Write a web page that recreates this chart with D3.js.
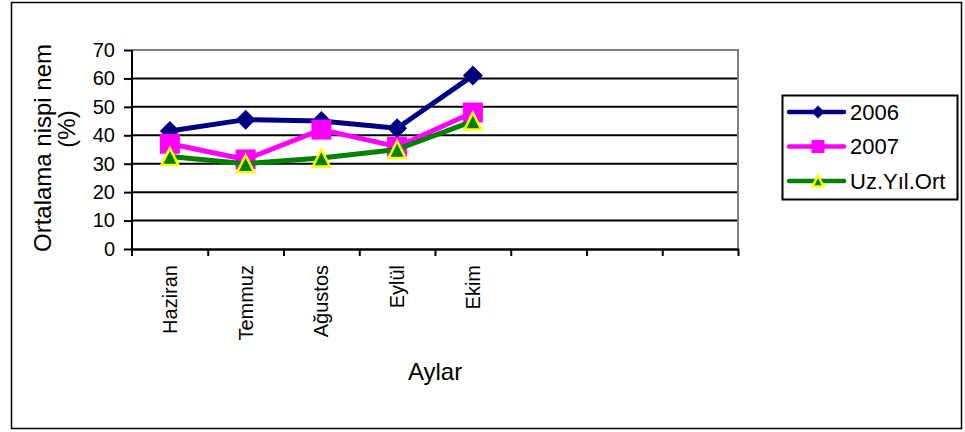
<!DOCTYPE html>
<html>
<head>
<meta charset="utf-8">
<script src="https://cdn.jsdelivr.net/npm/d3@7/dist/d3.min.js"></script>
<style>
  html, body { margin: 0; padding: 0; background: #fff; }
  svg { display: block; font-family: Arial, "Liberation Sans", sans-serif; }
</style>
</head>
<body>
<svg id="chart" width="965" height="432"></svg>
<script>
// Monthly mean relative humidity (%)
const categories = ["Haziran", "Temmuz", "Ağustos", "Eylül", "Ekim"];
const slotCount = 8; // category axis keeps three empty slots on the right
const seriesNames = ["2006", "2007", "Uz.Yıl.Ort"];
const values2006 = [41.5, 45.5, 45, 42.5, 61];
const values2007 = [37, 31.5, 42, 36, 48];
const valuesLongTerm = [32.5, 30, 32, 35, 45];
const yTicks = [0, 10, 20, 30, 40, 50, 60, 70];

const seriesStyle = [
  { values: values2006, color: "#000080", marker: "diamond" },
  { values: values2007, color: "#FF00FF", marker: "square" },
  { values: valuesLongTerm, color: "#008000", marker: "triangle" }
];

const svg = d3.select("#chart");

// outer frame
svg.append("rect")
  .attr("x", 11.5).attr("y", 2.5)
  .attr("width", 950).attr("height", 426)
  .attr("fill", "none").attr("stroke", "#000").attr("stroke-width", 1.5);

const plot = { left: 132, right: 738, top: 50, bottom: 249 };

const x = d3.scaleBand()
  .domain(d3.range(slotCount))
  .range([plot.left, plot.right])
  .padding(0);

const xEdge = d3.scaleLinear()
  .domain([0, slotCount])
  .range([plot.left, plot.right]);

const y = d3.scaleLinear()
  .domain([0, 70])
  .range([plot.bottom, plot.top]);

// horizontal gridlines
svg.append("g")
  .selectAll("line")
  .data(yTicks.filter(v => v > 0 && v < 70))
  .join("line")
  .attr("x1", plot.left).attr("x2", plot.right)
  .attr("y1", d => y(d)).attr("y2", d => y(d))
  .attr("stroke", "#000").attr("stroke-width", 2);

// plot area border (top and right)
svg.append("path")
  .attr("d", `M${plot.left},${y(70)}H${plot.right}V${plot.bottom}`)
  .attr("fill", "none").attr("stroke", "#808080").attr("stroke-width", 2);

// y axis
const yAxis = svg.append("g")
  .attr("transform", `translate(${plot.left},0)`)
  .call(d3.axisLeft(y).tickValues(yTicks).tickSize(8).tickPadding(9).tickSizeOuter(0));
yAxis.select(".domain").attr("stroke", "#000").attr("stroke-width", 2)
  .attr("d", `M0,${plot.top}V${plot.bottom + 7}`);
yAxis.selectAll(".tick line").attr("stroke", "#000").attr("stroke-width", 2);
yAxis.selectAll(".tick text")
  .attr("font-size", 20).attr("fill", "#000")
  .attr("font-family", "Arial, 'Liberation Sans', sans-serif");

// x axis with ticks between categories
const xAxis = svg.append("g")
  .attr("transform", `translate(0,${plot.bottom})`)
  .call(d3.axisBottom(xEdge).tickValues(d3.range(1, slotCount + 1)).tickFormat("").tickSize(7).tickSizeOuter(0));
xAxis.select(".domain").attr("stroke", "#000").attr("stroke-width", 2.5);
xAxis.selectAll(".tick line").attr("stroke", "#000").attr("stroke-width", 2);

// category labels, rotated
svg.append("g")
  .selectAll("text")
  .data(categories)
  .join("text")
  .attr("transform", (d, i) => `translate(${x(i) + x.bandwidth() / 2},265) rotate(-90)`)
  .attr("text-anchor", "end")
  .attr("dy", "0.35em")
  .attr("font-size", 20)
  .text(d => d);

// axis titles
svg.append("text")
  .attr("transform", "translate(43,148) rotate(-90)")
  .attr("text-anchor", "middle").attr("dy", "0.35em")
  .attr("font-size", 24)
  .text("Ortalama nispi nem");
svg.append("text")
  .attr("transform", "translate(67,129) rotate(-90)")
  .attr("text-anchor", "middle").attr("dy", "0.35em")
  .attr("font-size", 24)
  .text("(%)");
svg.append("text")
  .attr("x", 435).attr("y", 380)
  .attr("text-anchor", "middle")
  .attr("font-size", 24)
  .text("Aylar");

// marker shapes
function markerPath(type, size) {
  const h = size / 2;
  if (type === "diamond") return `M0,${-h}L${h},0L0,${h}L${-h},0Z`;
  if (type === "square") return `M${-h},${-h}H${h}V${h}H${-h}Z`;
  return `M0,${-h}L${h},${h}L${-h},${h}Z`;
}
function drawMarker(g, type, size, color) {
  const p = g.append("path").attr("d", markerPath(type, size));
  if (type === "triangle") {
    p.attr("fill", color).attr("stroke", "#FFFF00").attr("stroke-width", 2.5).attr("stroke-linejoin", "miter");
  } else {
    p.attr("fill", color);
  }
}
const markerSize = { diamond: 20, square: 20, triangle: 17 };

const line = d3.line()
  .x((d, i) => x(i) + x.bandwidth() / 2)
  .y(d => y(d));

// series lines then markers
seriesStyle.forEach(s => {
  svg.append("path")
    .datum(s.values)
    .attr("d", line)
    .attr("fill", "none")
    .attr("stroke", s.color)
    .attr("stroke-width", 5)
    .attr("stroke-linejoin", "round");
  s.values.forEach((v, i) => {
    const g = svg.append("g")
      .attr("transform", `translate(${x(i) + x.bandwidth() / 2},${y(v)})`);
    drawMarker(g, s.marker, markerSize[s.marker], s.color);
  });
});

// legend
const legend = svg.append("g");
legend.append("rect")
  .attr("x", 782.5).attr("y", 95.5)
  .attr("width", 175).attr("height", 104)
  .attr("fill", "#fff").attr("stroke", "#000").attr("stroke-width", 2);
const legendRows = [112, 146.5, 181];
seriesStyle.forEach((s, i) => {
  const row = legend.append("g").attr("transform", `translate(0,${legendRows[i]})`);
  row.append("line")
    .attr("x1", 789).attr("x2", 844)
    .attr("stroke", s.color).attr("stroke-width", 4.5).attr("stroke-linecap", "round");
  const mg = row.append("g").attr("transform", "translate(818,0)");
  drawMarker(mg, s.marker, s.marker === "triangle" ? 11 : 13, s.color);
  row.append("text")
    .attr("x", 850).attr("dy", "0.35em")
    .attr("font-size", 22)
    .text(seriesNames[i]);
});
</script>
</body>
</html>
